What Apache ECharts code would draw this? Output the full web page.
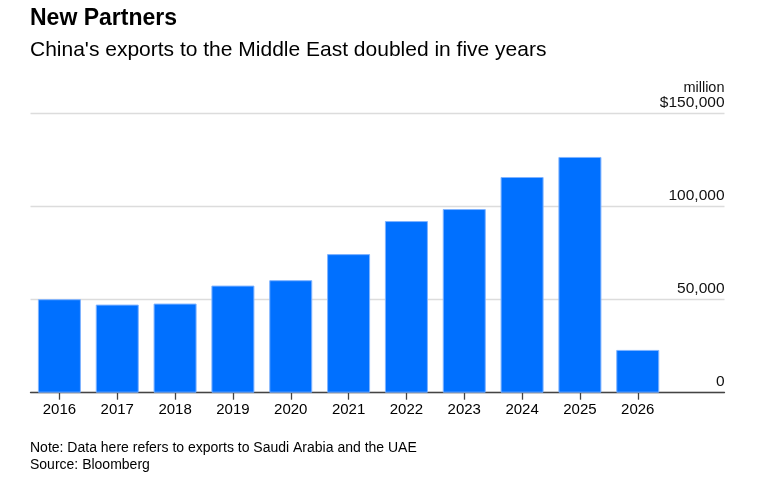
<!DOCTYPE html>
<html>
<head>
<meta charset="utf-8">
<script src="https://cdn.jsdelivr.net/npm/echarts@6/dist/echarts.min.js"></script>
<style>
html,body{margin:0;padding:0;background:#fff;}
#chart{width:778px;height:483px;}
</style>
</head>
<body>
<div id="chart"></div>
<script>
var years = ['2016','2017','2018','2019','2020','2021','2022','2023','2024','2025','2026',''];
var exportsValues = [50200, 47300, 47850, 57500, 60400, 74400, 92150, 98600, 115800, 126560, 22960, null];
var yTicks = [0, 50000, 100000, 150000];
var titleText = 'New Partners';
var subtitleText = "China's exports to the Middle East doubled in five years";
var noteText = 'Note: Data here refers to exports to Saudi Arabia and the UAE';
var sourceText = 'Source: Bloomberg';
var unitText = 'million';

var FONT = '"Liberation Sans", Arial, Helvetica, sans-serif';
var chart = echarts.init(document.getElementById('chart'), null, {renderer: 'canvas'});

function fmt(v) {
  var s = v.toLocaleString('en-US');
  if (v === yTicks[yTicks.length - 1]) return '{u|' + unitText + '}\n{v|$' + s + '}';
  return '{v|' + s + '}';
}

chart.setOption({
  animation: false,
  backgroundColor: '#fff',
  grid: {left: 30.5, right: 53.5, top: 113.3, bottom: 90.3, containLabel: false},
  graphic: [
    {type: 'text', left: 30, top: 7, style: {text: titleText, font: 'bold 23px ' + FONT, fill: '#000'}},
    {type: 'text', left: 30, top: 40, style: {text: subtitleText, font: '21px ' + FONT, fill: '#000'}},
    {type: 'text', left: 30, top: 441, style: {text: noteText, font: '14px ' + FONT, fill: '#000'}},
    {type: 'text', left: 30, top: 458, style: {text: sourceText, font: '14px ' + FONT, fill: '#000'}}
  ],
  xAxis: {
    type: 'category',
    data: years,
    boundaryGap: true,
    axisLine: {show: true, lineStyle: {color: '#444', width: 1.3}},
    axisTick: {show: true, alignWithLabel: true, length: 7, lineStyle: {color: '#444', width: 1.3},
      interval: function (i, v) { return v !== ''; }},
    axisLabel: {color: '#000', fontSize: 15, fontFamily: FONT, margin: 10, interval: 0},
    splitLine: {show: false}
  },
  yAxis: {
    type: 'value',
    position: 'right',
    min: 0,
    max: 150000,
    interval: 50000,
    axisLine: {show: false},
    axisTick: {show: false},
    splitLine: {show: true, lineStyle: {color: '#dcdcdc', width: 1.3}},
    axisLabel: {
      inside: true,
      margin: 0,
      verticalAlign: 'bottom',
      align: 'right',
      formatter: fmt,
      rich: {
        v: {fontSize: 15.5, fontFamily: FONT, color: '#111', lineHeight: 17, align: 'right', padding: [0, 0, 5, 0]},
        u: {fontSize: 14.5, fontFamily: FONT, color: '#111', lineHeight: 17, align: 'right'}
      }
    }
  },
  series: [{
    type: 'bar',
    data: exportsValues,
    barWidth: 43,
    itemStyle: {color: '#0070ff', borderColor: '#7fb3ff', borderWidth: 1}
  }]
});
</script>
</body>
</html>
